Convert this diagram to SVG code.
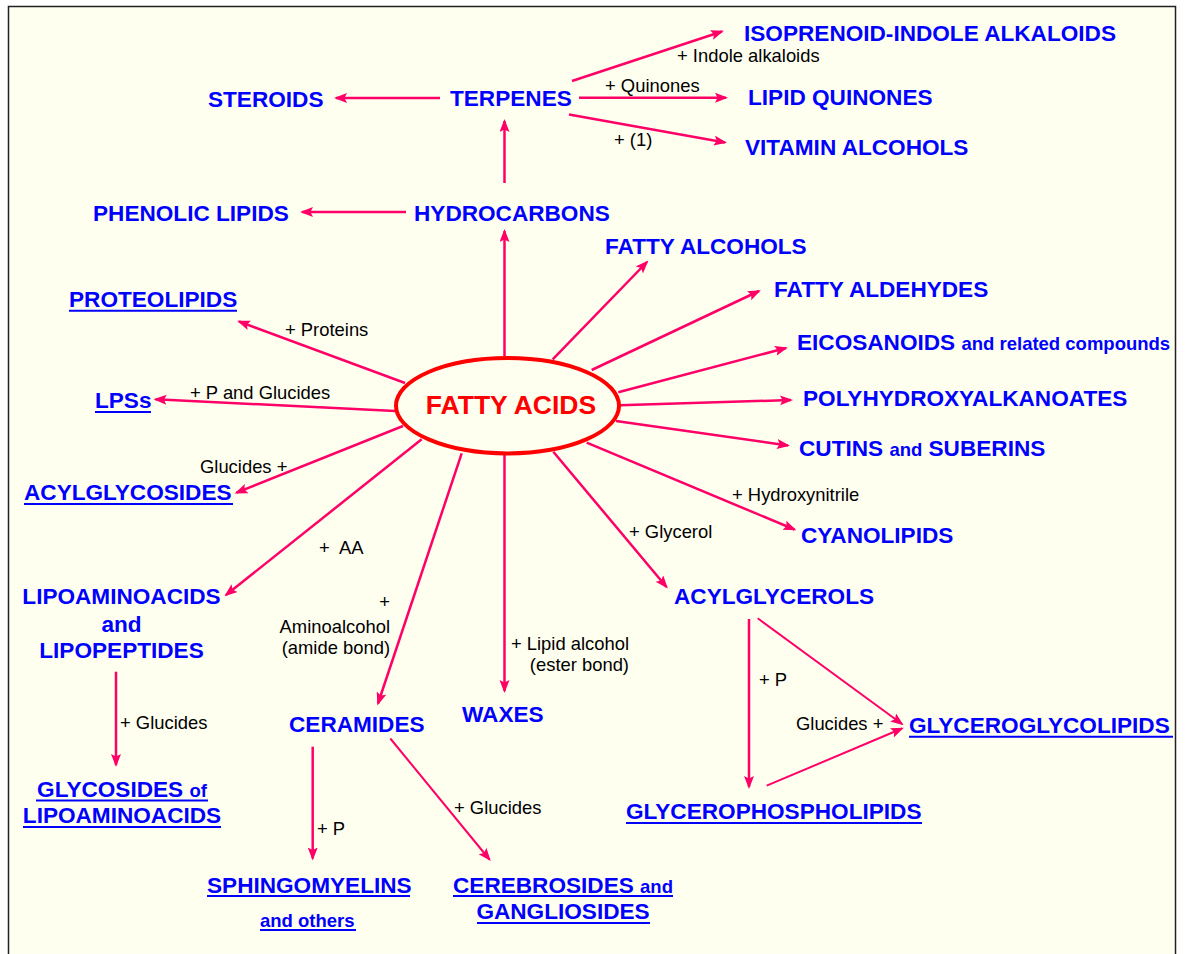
<svg xmlns="http://www.w3.org/2000/svg" width="1185" height="954" viewBox="0 0 1185 954">
<style>
.b{font-family:"Liberation Sans",Arial,sans-serif;font-weight:bold;font-size:22.6px;fill:#0000FF}
.s{font-size:18.5px}
.l{font-family:"Liberation Sans",Arial,sans-serif;font-size:18.4px;fill:#000}
.c{text-anchor:middle}
.e{text-anchor:end}
.u{stroke:#0000FF;stroke-width:2}
.a{stroke:#FF0066;stroke-width:2.5;fill:none;marker-end:url(#ah)}
.t{stroke-width:2}
</style>
<defs>
<marker id="ah" markerUnits="userSpaceOnUse" markerWidth="14" markerHeight="12" viewBox="0 0 14 12" refX="11" refY="5" orient="auto">
<path d="M0,0 L13,5 L0,10 L2.5,5 Z" fill="#FF0066"/>
</marker>
</defs>
<rect x="0" y="0" width="1185" height="954" fill="#FFFFFF"/>
<rect x="8.5" y="6.5" width="1167" height="960" fill="#FFFFF0" stroke="#222" stroke-width="1.5"/>

<g id="connectors">
<line class="a" x1="440" y1="98" x2="336" y2="98"/>
<line class="a" x1="572" y1="81" x2="722" y2="31.5"/>
<line class="a" x1="579" y1="97.7" x2="726" y2="97.7"/>
<line class="a" x1="569" y1="114.5" x2="725" y2="142.5"/>
<line class="a" x1="504.5" y1="183" x2="504.5" y2="121"/>
<line class="a" x1="406" y1="212" x2="302" y2="212"/>
<line class="a" x1="504.5" y1="356" x2="504.5" y2="231"/>
<line class="a" x1="552.7" y1="359.3" x2="647" y2="262"/>
<line class="a" x1="591.7" y1="370" x2="759" y2="291"/>
<line class="a" x1="618.3" y1="392.3" x2="786" y2="348"/>
<line class="a" x1="620" y1="405.3" x2="791" y2="400"/>
<line class="a" x1="616" y1="421" x2="788" y2="445.5"/>
<line class="a" x1="586.7" y1="442.7" x2="794.5" y2="529.5"/>
<line class="a" x1="553.3" y1="451.7" x2="666.5" y2="587"/>
<line class="a" x1="504.5" y1="455" x2="504.5" y2="691"/>
<line class="a" x1="461.7" y1="453.3" x2="378" y2="703.5"/>
<line class="a" x1="421.7" y1="439.3" x2="226" y2="595"/>
<line class="a" x1="403" y1="426" x2="236.5" y2="492.7"/>
<line class="a" x1="395" y1="411" x2="155.5" y2="399.3"/>
<line class="a" x1="405" y1="383" x2="239" y2="321.5"/>
<line class="a" x1="116" y1="671.7" x2="116" y2="765"/>
<line class="a" x1="312.7" y1="746.7" x2="312.7" y2="858.5"/>
<line class="a t" x1="390.3" y1="738.5" x2="489.5" y2="859.5"/>
<line class="a" x1="749" y1="619" x2="749" y2="787"/>
<line class="a t" x1="757.7" y1="618.3" x2="902" y2="724"/>
<line class="a t" x1="766.7" y1="785.7" x2="902" y2="728.5"/>
</g>

<g id="fatty-acids">
<ellipse cx="507.5" cy="405.7" rx="111.5" ry="47.7" fill="none" stroke="#FF0000" stroke-width="4"/>
<text x="511" y="413.5" class="b c" style="font-size:26.5px;fill:#FF0000">FATTY ACIDS</text>
</g>
<g id="steroids"><text x="208" y="107" class="b">STEROIDS</text></g>
<g id="terpenes"><text x="450" y="106" class="b">TERPENES</text></g>
<g id="isoprenoid"><text x="744" y="41" class="b">ISOPRENOID-INDOLE ALKALOIDS</text></g>
<g id="lipid-quinones"><text x="748" y="105" class="b">LIPID QUINONES</text></g>
<g id="vitamin-alcohols"><text x="745" y="155" class="b">VITAMIN ALCOHOLS</text></g>
<g id="hydrocarbons"><text x="414" y="221" class="b">HYDROCARBONS</text></g>
<g id="phenolic-lipids"><text x="93" y="221" class="b">PHENOLIC LIPIDS</text></g>
<g id="fatty-alcohols"><text x="605" y="254" class="b">FATTY ALCOHOLS</text></g>
<g id="fatty-aldehydes"><text x="774" y="297" class="b">FATTY ALDEHYDES</text></g>
<g id="proteolipids"><text x="69" y="307" class="b">PROTEOLIPIDS</text><line class="u" x1="69" y1="310.8" x2="237" y2="310.8"/></g>
<g id="lpss"><text x="95" y="408" class="b">LPSs</text><line class="u" x1="95" y1="412" x2="151" y2="412"/></g>
<g id="eicosanoids"><text x="797" y="350" class="b">EICOSANOIDS <tspan class="s">and related compounds</tspan></text></g>
<g id="polyhydroxyalkanoates"><text x="803" y="406" class="b">POLYHYDROXYALKANOATES</text></g>
<g id="cutins"><text x="799" y="456" class="b">CUTINS <tspan class="s">and</tspan> SUBERINS</text></g>
<g id="cyanolipids"><text x="801" y="543" class="b">CYANOLIPIDS</text></g>
<g id="acylglycerols"><text x="674" y="604" class="b">ACYLGLYCEROLS</text></g>
<g id="acylglycosides"><text x="24" y="500" class="b">ACYLGLYCOSIDES</text><line class="u" x1="24" y1="504" x2="233" y2="504"/></g>
<g id="lipoaminoacids"><text x="121.5" y="604" class="b c">LIPOAMINOACIDS</text><text x="121.5" y="632" class="b c">and</text><text x="121.5" y="658" class="b c">LIPOPEPTIDES</text></g>
<g id="glycosides-lipoaminoacids"><text x="122" y="797" class="b c">GLYCOSIDES <tspan class="s">of</tspan></text><line class="u" x1="36" y1="800.5" x2="208" y2="800.5"/><text x="122" y="823" class="b c">LIPOAMINOACIDS</text><line class="u" x1="23" y1="827" x2="221" y2="827"/></g>
<g id="ceramides"><text x="289" y="732" class="b">CERAMIDES</text></g>
<g id="waxes"><text x="462" y="722" class="b">WAXES</text></g>
<g id="sphingomyelins"><text x="207" y="893" class="b">SPHINGOMYELINS</text><line class="u" x1="207" y1="896" x2="410" y2="896"/><text x="260" y="927" class="b s">and others</text><line class="u" x1="260" y1="930" x2="356" y2="930"/></g>
<g id="cerebrosides"><text x="563" y="893" class="b c">CEREBROSIDES <tspan class="s">and</tspan></text><line class="u" x1="453" y1="896" x2="673" y2="896"/><text x="563" y="919" class="b c">GANGLIOSIDES</text><line class="u" x1="477" y1="923" x2="650" y2="923"/></g>
<g id="glycerophospholipids"><text x="626" y="819" class="b">GLYCEROPHOSPHOLIPIDS</text><line class="u" x1="626" y1="823" x2="922" y2="823"/></g>
<g id="glyceroglycolipids"><text x="909" y="733" class="b">GLYCEROGLYCOLIPIDS</text><line class="u" x1="909" y1="736.7" x2="1173" y2="736.7"/></g>

<g id="labels">
<text x="677" y="62" class="l">+ Indole alkaloids</text>
<text x="605" y="92" class="l">+ Quinones</text>
<text x="614" y="146" class="l">+ (1)</text>
<text x="285" y="336" class="l">+ Proteins</text>
<text x="190" y="399" class="l">+ P and Glucides</text>
<text x="200" y="473" class="l">Glucides +</text>
<text x="319" y="554" class="l" style="white-space:pre">+  AA</text>
<text x="732" y="501" class="l">+ Hydroxynitrile</text>
<text x="629" y="538" class="l">+ Glycerol</text>
<text x="390" y="608" class="l e">+</text>
<text x="390" y="633" class="l e">Aminoalcohol</text>
<text x="390" y="654" class="l e">(amide bond)</text>
<text x="629" y="650" class="l e">+ Lipid alcohol</text>
<text x="629" y="671" class="l e">(ester bond)</text>
<text x="120" y="729" class="l">+ Glucides</text>
<text x="317" y="835" class="l">+ P</text>
<text x="454" y="814" class="l">+ Glucides</text>
<text x="759" y="686" class="l">+ P</text>
<text x="796" y="730" class="l">Glucides +</text>
</g>
</svg>
